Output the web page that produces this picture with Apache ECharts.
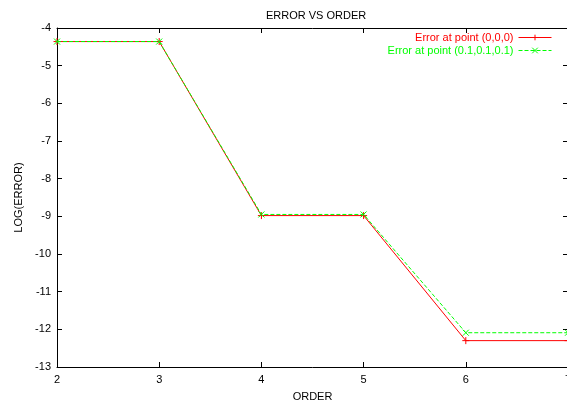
<!DOCTYPE html>
<html>
<head>
<meta charset="utf-8">
<script src="https://cdn.jsdelivr.net/npm/echarts@6/dist/echarts.min.js"></script>
<style>
html,body{margin:0;padding:0;background:#fff;}
#chart{width:567px;height:407px;}
</style>
</head>
<body>
<div id="chart"></div>
<script>
var titleText = 'ERROR VS ORDER';
var xName = 'ORDER';
var yName = 'LOG(ERROR)';
var orders = [2, 3, 4, 5, 6, 7];
var errOrigin = [-4.36, -4.36, -8.98, -8.98, -12.30, -12.30];
var errPoint01 = [-4.36, -4.36, -8.95, -8.95, -12.09, -12.09];
var seriesNames = ['Error at point (0,0,0)', 'Error at point (0.1,0.1,0.1)'];
var seriesColors = ['#ff0000', '#00ff00'];

var FONT = '"Liberation Sans", Arial, sans-serif';
var plusPath = 'path://M0,5L10,5M5,0L5,10';
var crossPath = 'path://M0,0L10,10M10,0L0,10';

function pairs(xs, ys) { return xs.map(function (x, i) { return [x, ys[i]]; }); }

var chart = echarts.init(document.getElementById('chart'), null, {renderer: 'canvas'});
var axisLabelStyle = {color: '#000', fontFamily: FONT, fontSize: 11};
chart.setOption({
  animation: false,
  backgroundColor: '#fff',
  title: {
    text: titleText, left: 261, top: 5,
    textStyle: {color: '#000', fontFamily: FONT, fontSize: 11, fontWeight: 'normal'}
  },
  legend: {
    orient: 'vertical', right: 10, top: 27, align: 'right',
    itemWidth: 33, itemHeight: 7, itemGap: 2,
    textStyle: {fontFamily: FONT, fontSize: 11},
    data: [
      {name: seriesNames[0], textStyle: {color: seriesColors[0]},
       lineStyle: {color: seriesColors[0], width: 1, type: 'solid'},
       itemStyle: {color: seriesColors[0], borderColor: seriesColors[0], borderWidth: 1}},
      {name: seriesNames[1], textStyle: {color: seriesColors[1]},
       lineStyle: {color: seriesColors[1], width: 1, type: [4, 2]},
       itemStyle: {color: seriesColors[1], borderColor: seriesColors[1], borderWidth: 1}}
    ]
  },
  grid: {left: 57, right: -1, top: 28, bottom: 40, containLabel: false, outerBoundsMode: 'none'},
  xAxis: [{
    type: 'value', min: 2, max: 7, interval: 1, position: 'bottom',
    name: xName, nameLocation: 'middle', nameGap: 24,
    nameTextStyle: {color: '#000', fontFamily: FONT, fontSize: 11},
    axisLine: {show: true, lineStyle: {color: '#000', width: 1}},
    axisTick: {show: true, inside: true, length: 5, lineStyle: {color: '#000'}},
    axisLabel: Object.assign({margin: 7, showMaxLabel: true}, axisLabelStyle),
    splitLine: {show: false}
  }, {
    type: 'value', min: 2, max: 7, interval: 1, position: 'top',
    axisLine: {show: true, lineStyle: {color: '#000', width: 1}},
    axisTick: {show: true, inside: true, length: 5, lineStyle: {color: '#000'}},
    axisLabel: {show: false},
    splitLine: {show: false}
  }],
  yAxis: [{
    type: 'value', min: -13, max: -4, interval: 1, position: 'left',
    name: yName, nameLocation: 'middle', nameGap: 33,
    nameTextStyle: {color: '#000', fontFamily: FONT, fontSize: 11},
    axisLine: {show: true, lineStyle: {color: '#000', width: 1}},
    axisTick: {show: true, inside: true, length: 5, lineStyle: {color: '#000'}},
    axisLabel: Object.assign({margin: 6}, axisLabelStyle),
    splitLine: {show: false}
  }, {
    type: 'value', min: -13, max: -4, interval: 1, position: 'right',
    axisLine: {show: false},
    axisTick: {show: true, inside: true, length: 5, lineStyle: {color: '#000'}},
    axisLabel: {show: false},
    splitLine: {show: false}
  }],
  series: [{
    name: seriesNames[0], type: 'line', xAxisIndex: 0, yAxisIndex: 0,
    data: pairs(orders, errOrigin),
    symbol: plusPath, symbolSize: 7, showSymbol: true,
    lineStyle: {color: seriesColors[0], width: 1, type: 'solid'},
    itemStyle: {color: seriesColors[0], borderColor: seriesColors[0], borderWidth: 1},
    z: 3
  }, {
    name: seriesNames[1], type: 'line', xAxisIndex: 0, yAxisIndex: 0,
    data: pairs(orders, errPoint01),
    symbol: crossPath, symbolSize: 6, showSymbol: true,
    lineStyle: {color: seriesColors[1], width: 1, type: [4, 2]},
    itemStyle: {color: seriesColors[1], borderColor: seriesColors[1], borderWidth: 1},
    z: 4
  }]
});
</script>
</body>
</html>
